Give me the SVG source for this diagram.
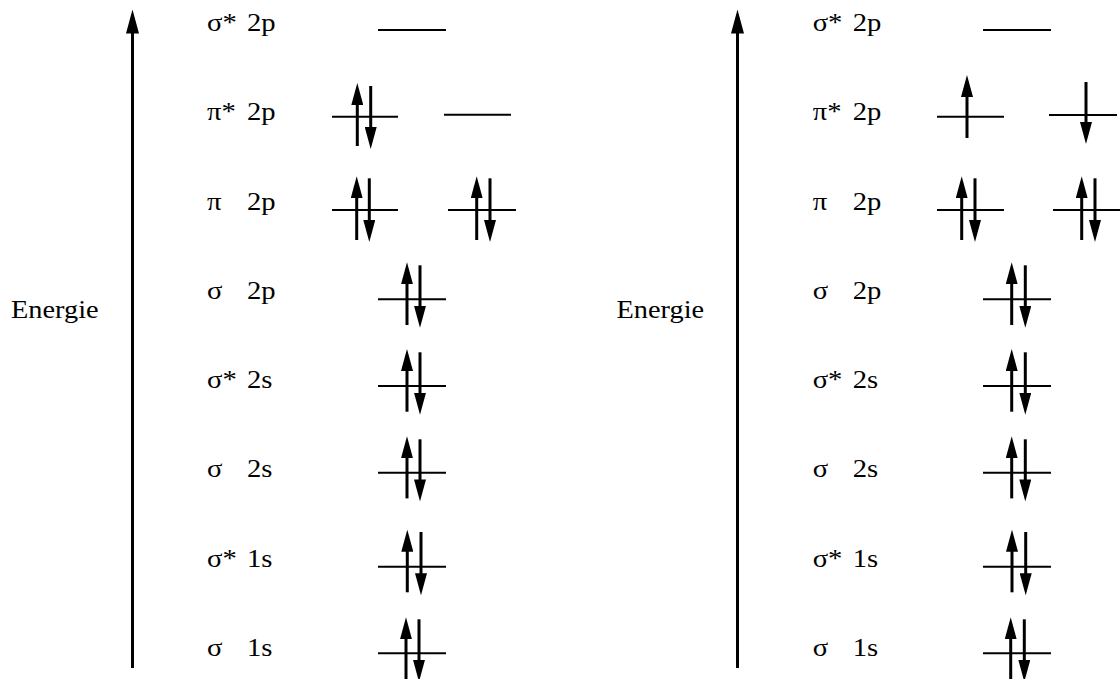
<svg xmlns="http://www.w3.org/2000/svg" width="1120" height="679" viewBox="0 0 1120 679">
<style>
text{font-family:"Liberation Serif","Times New Roman",serif;font-size:26px;fill:#000}
.lv{stroke:#000;stroke-width:2;fill:none}
.e{stroke:#000;stroke-width:3;fill:none;marker-end:url(#eh)}
.ax{stroke:#000;stroke-width:3;fill:none;marker-end:url(#ah)}
</style>
<defs>
<marker id="eh" markerUnits="userSpaceOnUse" markerWidth="22" markerHeight="12" viewBox="0 0 22 12" refX="10" refY="6" orient="auto"><path d="M0,0 L22,6 L0,12 z" fill="#000"/></marker>
<marker id="ah" markerUnits="userSpaceOnUse" markerWidth="24" markerHeight="13" viewBox="0 0 24 13" refX="10" refY="6.5" orient="auto"><path d="M0,0 L24,6.5 L0,13 z" fill="#000"/></marker>
</defs>
<rect width="1120" height="679" fill="#fff"/>
<g id="connectors">
<line class="ax" x1="132.5" y1="668" x2="132.5" y2="23.5"/>
<line class="ax" x1="737.5" y1="668" x2="737.5" y2="23.5"/>
</g>
<g id="left-panel">
<g id="L-energie"><text transform="translate(11,318) scale(1.09,1)">Energie</text></g>
<g id="L-sigma-star-2p">
<text transform="translate(207,31) scale(1.1,1)"><tspan x="0">σ*</tspan><tspan x="36.4">2p</tspan></text>
<line class="lv" x1="378" y1="30" x2="446" y2="30"/>
</g>
<g id="L-pi-star-2p">
<text transform="translate(207,120) scale(1.1,1)"><tspan x="0">π*</tspan><tspan x="36.4">2p</tspan></text>
<line class="lv" x1="332" y1="116.7" x2="398" y2="116.7"/>
<line class="e" x1="357.3" y1="146" x2="357.3" y2="95"/>
<line class="e" x1="370.7" y1="86" x2="370.7" y2="137"/>
<line class="lv" x1="444" y1="114.7" x2="511" y2="114.7"/>
</g>
<g id="L-pi-2p">
<text transform="translate(207,210) scale(1.1,1)"><tspan x="0">π</tspan><tspan x="36.4">2p</tspan></text>
<line class="lv" x1="332" y1="210" x2="398" y2="210"/>
<line class="e" x1="356.7" y1="240" x2="356.7" y2="188.3"/>
<line class="e" x1="369.3" y1="178.3" x2="369.3" y2="230"/>
<line class="lv" x1="448" y1="210" x2="516" y2="210"/>
<line class="e" x1="476.7" y1="240" x2="476.7" y2="188.3"/>
<line class="e" x1="490" y1="178.3" x2="490" y2="230"/>
</g>
<g id="L-sigma-2p">
<text transform="translate(207,299.3) scale(1.1,1)"><tspan x="0">σ</tspan><tspan x="36.4">2p</tspan></text>
<line class="lv" x1="378" y1="299.3" x2="446" y2="299.3"/>
<line class="e" x1="407" y1="325" x2="407" y2="274.3"/>
<line class="e" x1="420" y1="265.3" x2="420" y2="315.8"/>
</g>
<g id="L-sigma-star-2s">
<text transform="translate(207,388.3) scale(1.1,1)"><tspan x="0">σ*</tspan><tspan x="36.4">2s</tspan></text>
<line class="lv" x1="378" y1="386" x2="446" y2="386"/>
<line class="e" x1="407" y1="411.7" x2="407" y2="361"/>
<line class="e" x1="420" y1="352.3" x2="420" y2="402.7"/>
</g>
<g id="L-sigma-2s">
<text transform="translate(207,477) scale(1.1,1)"><tspan x="0">σ</tspan><tspan x="36.4">2s</tspan></text>
<line class="lv" x1="378" y1="472.7" x2="446" y2="472.7"/>
<line class="e" x1="407" y1="498.4" x2="407" y2="448.3"/>
<line class="e" x1="420" y1="439.3" x2="420" y2="489.4"/>
</g>
<g id="L-sigma-star-1s">
<text transform="translate(207,566.5) scale(1.1,1)"><tspan x="0">σ*</tspan><tspan x="36.4">1s</tspan></text>
<line class="lv" x1="378" y1="566.7" x2="446" y2="566.7"/>
<line class="e" x1="407.3" y1="592.3" x2="407.3" y2="541.7"/>
<line class="e" x1="421" y1="532" x2="421" y2="583.3"/>
</g>
<g id="L-sigma-1s">
<text transform="translate(207,655.5) scale(1.1,1)"><tspan x="0">σ</tspan><tspan x="36.4">1s</tspan></text>
<line class="lv" x1="378" y1="653.3" x2="446" y2="653.3"/>
<line class="e" x1="406" y1="679" x2="406" y2="629.3"/>
<line class="e" x1="419" y1="619.3" x2="419" y2="669.8"/>
</g>
</g>
<g id="right-panel">
<g id="R-energie"><text transform="translate(616.5,318) scale(1.09,1)">Energie</text></g>
<g id="R-sigma-star-2p">
<text transform="translate(812.7,31) scale(1.1,1)"><tspan x="0">σ*</tspan><tspan x="36.4">2p</tspan></text>
<line class="lv" x1="983" y1="30" x2="1051" y2="30"/>
</g>
<g id="R-pi-star-2p">
<text transform="translate(812.7,120) scale(1.1,1)"><tspan x="0">π*</tspan><tspan x="36.4">2p</tspan></text>
<line class="lv" x1="937" y1="116.7" x2="1004" y2="116.7"/>
<line class="e" x1="967" y1="138" x2="967" y2="87"/>
<line class="lv" x1="1049" y1="115" x2="1117" y2="115"/>
<line class="e" x1="1086" y1="82" x2="1086" y2="132"/>
</g>
<g id="R-pi-2p">
<text transform="translate(812.7,210) scale(1.1,1)"><tspan x="0">π</tspan><tspan x="36.4">2p</tspan></text>
<line class="lv" x1="937" y1="210" x2="1004" y2="210"/>
<line class="e" x1="961.7" y1="240" x2="961.7" y2="188.3"/>
<line class="e" x1="975" y1="178.3" x2="975" y2="230"/>
<line class="lv" x1="1053" y1="210" x2="1121" y2="210"/>
<line class="e" x1="1081.7" y1="240" x2="1081.7" y2="188.3"/>
<line class="e" x1="1095" y1="178.3" x2="1095" y2="230"/>
</g>
<g id="R-sigma-2p">
<text transform="translate(812.7,299.3) scale(1.1,1)"><tspan x="0">σ</tspan><tspan x="36.4">2p</tspan></text>
<line class="lv" x1="983" y1="299.3" x2="1051" y2="299.3"/>
<line class="e" x1="1011.7" y1="325" x2="1011.7" y2="274.3"/>
<line class="e" x1="1025.3" y1="265.3" x2="1025.3" y2="315.8"/>
</g>
<g id="R-sigma-star-2s">
<text transform="translate(812.7,388.3) scale(1.1,1)"><tspan x="0">σ*</tspan><tspan x="36.4">2s</tspan></text>
<line class="lv" x1="983" y1="386" x2="1051" y2="386"/>
<line class="e" x1="1011.7" y1="411.7" x2="1011.7" y2="361"/>
<line class="e" x1="1025.3" y1="352.3" x2="1025.3" y2="402.7"/>
</g>
<g id="R-sigma-2s">
<text transform="translate(812.7,477) scale(1.1,1)"><tspan x="0">σ</tspan><tspan x="36.4">2s</tspan></text>
<line class="lv" x1="983" y1="472.7" x2="1051" y2="472.7"/>
<line class="e" x1="1011.7" y1="498.4" x2="1011.7" y2="448.3"/>
<line class="e" x1="1025.3" y1="439.3" x2="1025.3" y2="489.4"/>
</g>
<g id="R-sigma-star-1s">
<text transform="translate(812.7,566.5) scale(1.1,1)"><tspan x="0">σ*</tspan><tspan x="36.4">1s</tspan></text>
<line class="lv" x1="983" y1="566.7" x2="1051" y2="566.7"/>
<line class="e" x1="1012" y1="592.3" x2="1012" y2="541.7"/>
<line class="e" x1="1025.7" y1="532" x2="1025.7" y2="583.3"/>
</g>
<g id="R-sigma-1s">
<text transform="translate(812.7,655.5) scale(1.1,1)"><tspan x="0">σ</tspan><tspan x="36.4">1s</tspan></text>
<line class="lv" x1="983" y1="653.3" x2="1051" y2="653.3"/>
<line class="e" x1="1010.7" y1="679" x2="1010.7" y2="629.3"/>
<line class="e" x1="1024.3" y1="619.3" x2="1024.3" y2="669.8"/>
</g>
</g>
</svg>
